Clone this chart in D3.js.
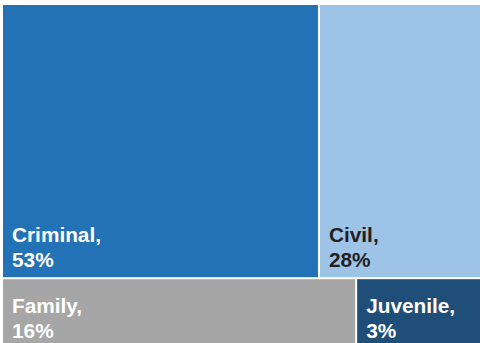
<!DOCTYPE html>
<html><head><meta charset="utf-8">
<script src="https://cdn.jsdelivr.net/npm/d3@7"></script>
<style>
html,body{margin:0;padding:0;background:#fff;overflow:hidden;}
svg{display:block;}
</style></head>
<body>
<svg id="chart" width="480" height="343"></svg>
<script>
// Data
const rows = ["top", "top", "bottom", "bottom"];
const categories = ["Criminal", "Civil", "Family", "Juvenile"];
const percentLabels = [53, 28, 16, 3];          // printed shares
const tileAreas = [52.0, 27.4, 15.0, 5.5];       // tile areas as drawn in the picture
const colors = ["#2372B6", "#9DC3E6", "#A6A6A6", "#1F4E79"];
const textColors = ["#ffffff", "#231F20", "#ffffff", "#ffffff"];

const svg = d3.select("#chart");

const rowNames = ["top", "bottom"];
const rootData = {
  name: "root",
  children: rowNames.map(r => ({
    name: r,
    children: categories.map((c, i) => ({name: c, idx: i, value: tileAreas[i], row: rows[i]}))
                        .filter(d => d.row === r)
  }))
};

const root = d3.hierarchy(rootData).sum(d => d.value || 0);

d3.treemap()
  .tile((node, x0, y0, x1, y1) => {
    if (node.depth === 0) d3.treemapSlice(node, x0, y0, x1, y1);
    else d3.treemapDice(node, x0, y0, x1, y1);
  })
  .size([482, 343])
  .paddingInner(2)
  .round(false)(root);

const g = svg.append("g").attr("transform", "translate(3,5)");

const leaves = g.selectAll("g.leaf").data(root.leaves()).join("g").attr("class", "leaf");

leaves.append("rect")
  .attr("x", d => d.x0)
  .attr("y", d => d.y0)
  .attr("width", d => d.x1 - d.x0)
  .attr("height", d => d.y1 - d.y0)
  .attr("fill", d => colors[d.data.idx]);

const txt = leaves.append("text")
  .attr("font-family", "'Liberation Sans', Arial, sans-serif")
  .attr("font-weight", "bold")
  .attr("font-size", 20.8)
  .attr("fill", d => textColors[d.data.idx]);

txt.append("tspan")
  .attr("x", d => d.x0 + 9)
  .attr("y", d => d.y1 - 35.5)
  .text(d => d.data.name + ",");
txt.append("tspan")
  .attr("x", d => d.x0 + 9)
  .attr("y", d => d.y1 - 10.5)
  .text(d => percentLabels[d.data.idx] + "%");
</script>
</body></html>
